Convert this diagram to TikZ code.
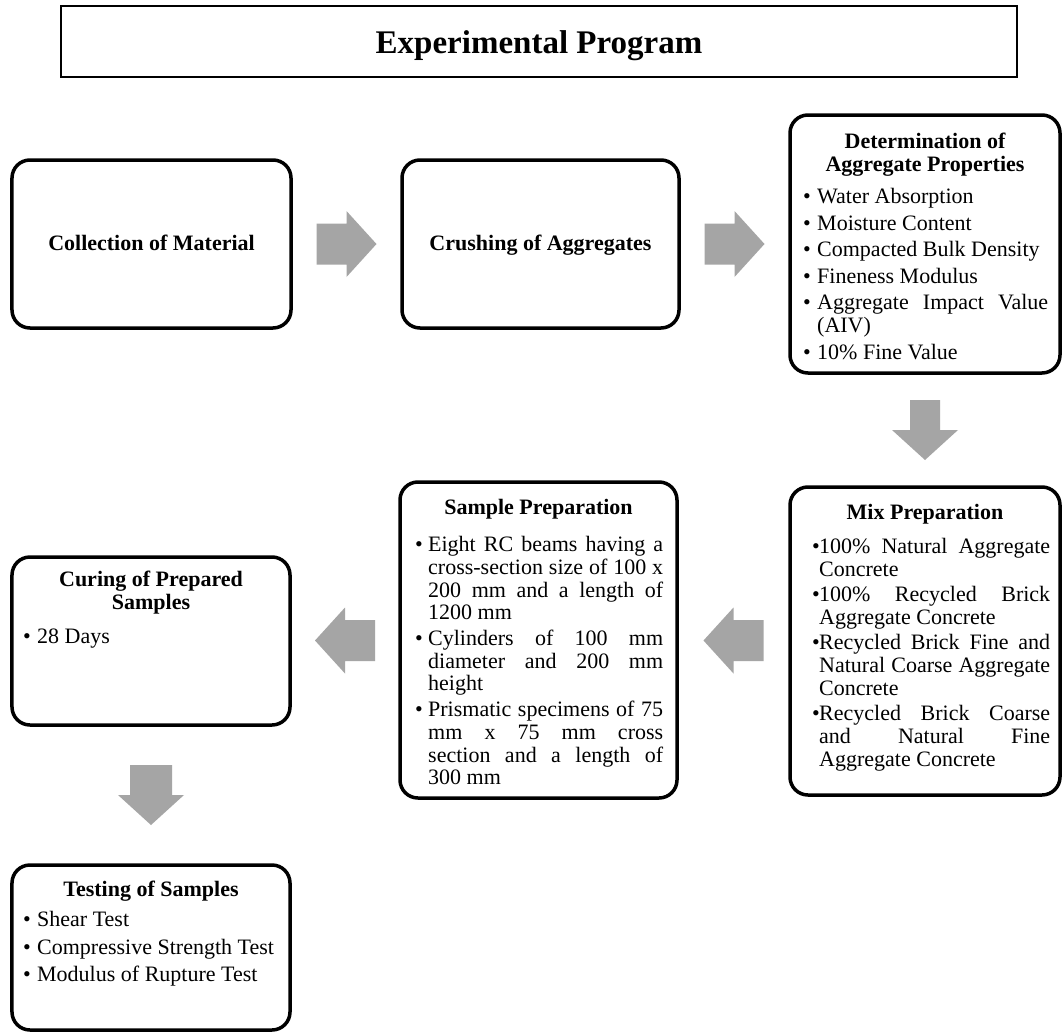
\documentclass[tikz,border=0pt]{standalone}
\usepackage{fontspec}
\setmainfont{Liberation Serif}
\usetikzlibrary{calc}
\definecolor{arrowgray}{HTML}{A5A5A5}
\newcommand\bulbox[1]{\makebox[#1bp][l]{•}}
\newcommand\firstl{\rule{0pt}{18bp}}
\begin{document}
\begin{tikzpicture}[x=1bp,y=-1bp,
  box/.style={draw, line width=3.5bp, rounded corners=18bp, inner sep=0pt},
  txt/.style={inner sep=0pt, align=left, font=\fontsize{22bp}{23bp}\selectfont},
  ttl/.style={inner sep=0pt, align=center, font=\fontsize{22bp}{23bp}\selectfont\bfseries},
  pics/barrow/.style={code={\fill[arrowgray] (-30,-#1) -- (0,-#1) -- (0,-33) -- (30,0) -- (0,33) -- (0,#1) -- (-30,#1) -- cycle;}}
]
\useasboundingbox (0,0) rectangle (1063,1032);
\fill[white] (0,0) rectangle (1063,1032);

% title
\node[draw, line width=2.5bp, minimum width=956bp, minimum height=71bp, inner sep=0pt] (title) at (539,41.5) {};
\node[anchor=base, inner sep=0pt, font=\fontsize{33bp}{33bp}\selectfont\bfseries] (titletext) at (539,53) {Experimental Program};

% row 1
\node[box, minimum width=279bp, minimum height=168bp] (collect) at (151.5,244) {};
\node[ttl, anchor=base] (collecttext) at (151.5,250) {Collection of Material};
\node[box, minimum width=277bp, minimum height=168bp] (crush) at (540.5,244) {};
\node[ttl, anchor=base] (crushtext) at (540.5,250) {Crushing of Aggregates};
\node[box, minimum width=270bp, minimum height=258bp] (det) at (925,244) {};
\node[ttl, anchor=north] (dettitle) at (925,130.5) {\firstl Determination of\\Aggregate Properties};
\node[txt, anchor=north west] (detlist) at (803,185.5) {\firstl\bulbox{14}Water Absorption\\[3.5bp]
\bulbox{14}Moisture Content\\[3.5bp]
\bulbox{14}Compacted Bulk Density\\[3.5bp]
\bulbox{14}Fineness Modulus\\[3.5bp]
\bulbox{14}\makebox[231bp][s]{Aggregate Impact Value}\\
\hspace*{14bp}(AIV)\\[3.5bp]
\bulbox{14}10\% Fine Value};

% mix
\node[box, minimum width=270bp, minimum height=308bp] (mix) at (925,641) {};
\node[ttl, anchor=north] (mixtitle) at (925,501.5) {\firstl Mix Preparation};
\node[txt, anchor=north west] (mixlist) at (812,535.5) {\firstl\bulbox{7}\makebox[231bp][s]{100\% Natural Aggregate}\\
\hspace*{7bp}Concrete\\[2bp]
\bulbox{7}\makebox[231bp][s]{100\% Recycled Brick}\\
\hspace*{7bp}Aggregate Concrete\\[2bp]
\bulbox{7}\makebox[231bp][s]{Recycled Brick Fine and}\\
\hspace*{7bp}\makebox[231bp][s]{Natural Coarse Aggregate}\\
\hspace*{7bp}Concrete\\[2bp]
\bulbox{7}\makebox[231bp][s]{Recycled Brick Coarse}\\
\hspace*{7bp}\makebox[231bp][s]{and Natural Fine}\\
\hspace*{7bp}Aggregate Concrete};

% sample
\node[box, minimum width=277bp, minimum height=316bp] (sample) at (538.5,640) {};
\node[ttl, anchor=north] (sampletitle) at (538.5,496.5) {\firstl Sample Preparation};
\node[txt, anchor=north west, font=\fontsize{22bp}{22.7bp}\selectfont] (samplelist) at (415,533.5) {\firstl\bulbox{13}\makebox[235bp][s]{Eight RC beams having a}\\
\hspace*{13bp}\makebox[235bp][s]{cross-section size of 100 x}\\
\hspace*{13bp}\makebox[235bp][s]{200 mm and a length of}\\
\hspace*{13bp}1200 mm\\[3bp]
\bulbox{13}\makebox[235bp][s]{Cylinders of 100 mm}\\
\hspace*{13bp}\makebox[235bp][s]{diameter and 200 mm}\\
\hspace*{13bp}height\\[3bp]
\bulbox{13}\makebox[235bp][s]{Prismatic specimens of 75}\\
\hspace*{13bp}\makebox[235bp][s]{mm x 75 mm cross}\\
\hspace*{13bp}\makebox[235bp][s]{section and a length of}\\
\hspace*{13bp}300 mm};

% curing
\node[box, minimum width=278bp, minimum height=168bp] (curing) at (151,641) {};
\node[ttl, anchor=north] (curetitle) at (151,568.5) {\firstl Curing of Prepared\\Samples};
\node[txt, anchor=north west] (curelist) at (23,625.5) {\firstl\bulbox{14}28 Days};

% testing
\node[box, minimum width=278bp, minimum height=165bp] (testing) at (151,947.5) {};
\node[ttl, anchor=north] (testtitle) at (151,878.5) {\firstl Testing of Samples};
\node[txt, anchor=north west] (testlist) at (23,908.5) {\firstl\bulbox{14}Shear Test\\[4.5bp]
\bulbox{14}Compressive Strength Test\\[4.5bp]
\bulbox{14}Modulus of Rupture Test};

% block arrows
\pic at ($(collect.east)!0.5!(crush.west)$) {barrow=20.5};
\pic at ($(crush.east)!0.5!(det.west)$) {barrow=20.5};
\pic[rotate=-90] at ($(det.south)!0.5!(mix.north)$) {barrow=15};
\pic[rotate=180] at ($(mix.west)!0.5!(sample.east)$) {barrow=20.5};
\pic[rotate=180] at ($(sample.west)!0.5!(curing.east)$) {barrow=20.5};
\pic[rotate=-90] at ($(curing.south)!0.5!(testing.north)$) {barrow=21};
\end{tikzpicture}
\end{document}
